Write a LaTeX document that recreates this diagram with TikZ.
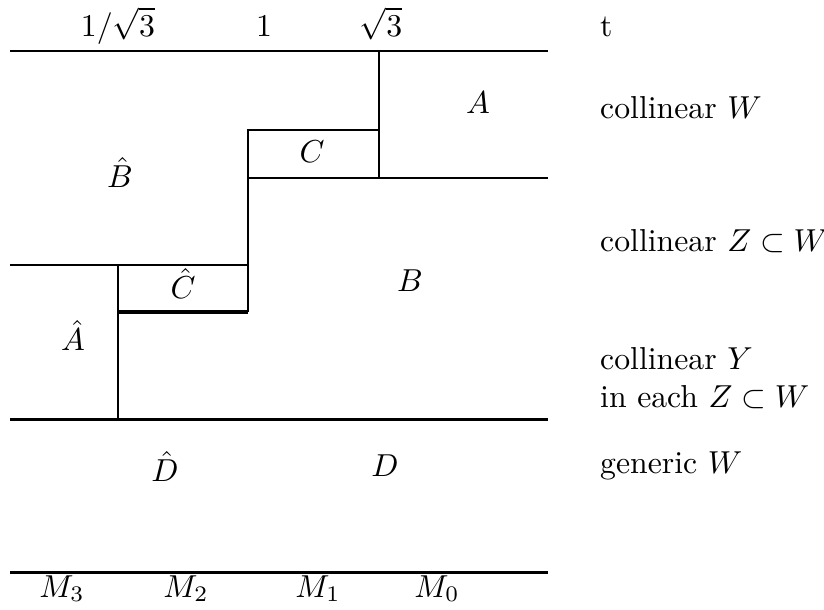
\documentclass[tikz,border=0pt]{standalone}
\usepackage{amsmath}
\usepackage{tikz}
\usetikzlibrary{positioning}

\begin{document}
\begin{tikzpicture}[x=0.315pt, y=-0.315pt, thin line/.style={line width=0.6pt}, thick line/.style={line width=0.95pt}, side/.style={anchor=west, align=left}, scale label/.style={anchor=base, inner sep=0pt}]
  \useasboundingbox (0,0) rectangle (824,609);
  % Skala oben
  \node[scale label] (s1) at (118,36) {$1/\sqrt{3}$};
  \node[scale label] (s2) at (264,36) {$1$};
  \node[scale label] (s3) at (381,36) {$\sqrt{3}$};
  \node[side] (t) at (589,27) {t};
  % Linien
  \draw[thin line] (10,51) -- (548,51);
  \draw[thin line] (379,51) -- (379,178);
  \draw[thin line] (248,178) |- (379,130);
  \draw[thin line] (248,178) -- (548,178);
  \draw[thin line] (248,130) -- (248,312);
  \draw[thin line] (10,265) -- (248,265);
  \draw[thick line] (118,312) -- (248,312);
  \draw[thin line] (118,265) -- (118,419);
  \draw[thick line] (10,419) -- (548,419);
  \draw[thick line] (10,572) -- (548,572);
  % Gebiete
  \node (A) at (478,103) {$A$};
  \node (C) at (312,152) {$C$};
  \node (Bh) at (120,172) {$\hat{B}$};
  \node (Ch) at (183,283) {$\hat{C}$};
  \node (B) at (410,281) {$B$};
  \node (Ah) at (73,335) {$\hat{A}$};
  \node (Dh) at (165,466) {$\hat{D}$};
  \node (D) at (385,466) {$D$};
  % Beschriftung rechts
  \node[side] (cW) at (589,108) {collinear $W$};
  \node[side] (cZ) at (589,241) {collinear $Z \subset W$};
  \node[side] (cY) at (589,378) {collinear $Y$\\in each $Z \subset W$};
  \node[side] (gW) at (589,466) {generic $W$};
  % Modulraeume
  \node[scale label] (M3) at (62,597) {$M_3$};
  \node[scale label] (M2) at (186,597) {$M_2$};
  \node[scale label] (M1) at (318,597) {$M_1$};
  \node[scale label] (M0) at (437,597) {$M_0$};
\end{tikzpicture}
\end{document}
